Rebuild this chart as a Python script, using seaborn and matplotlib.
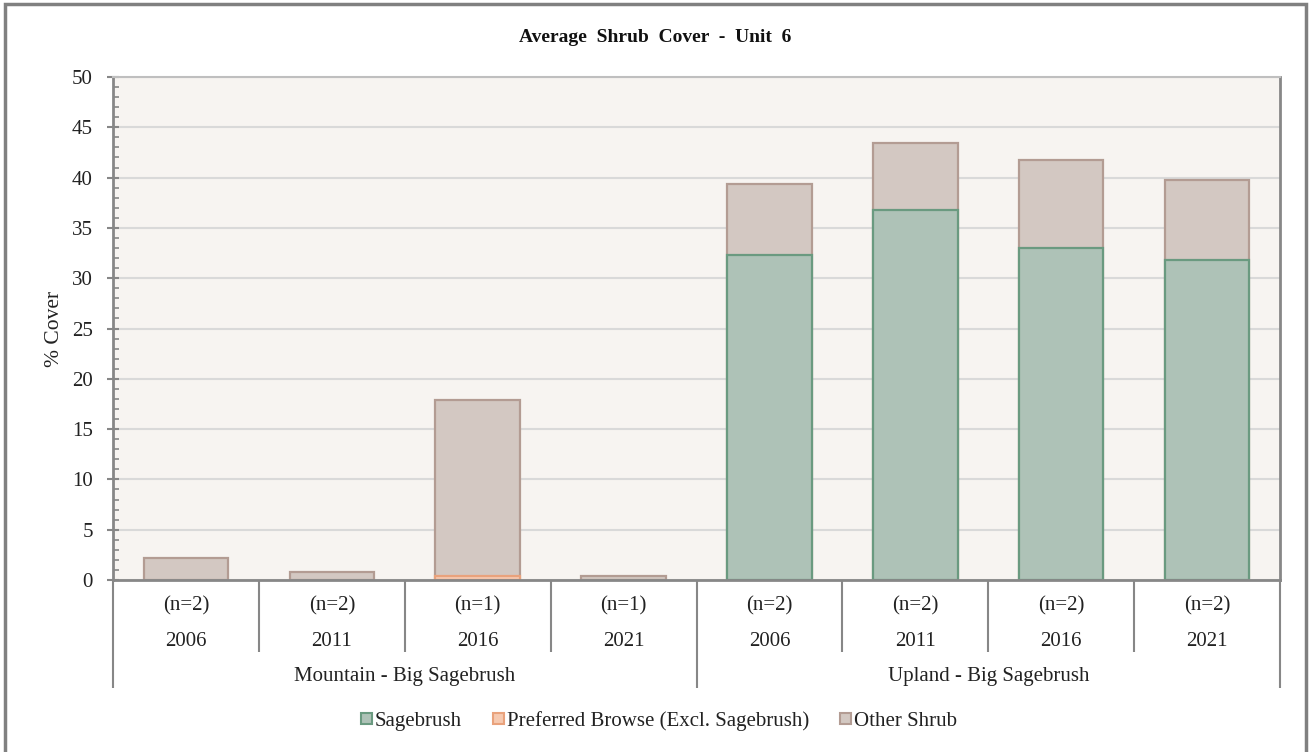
import matplotlib
matplotlib.use("Agg")
import matplotlib.pyplot as plt
from matplotlib.patches import Patch, Rectangle
from matplotlib.ticker import MultipleLocator
import numpy as np
import pandas as pd
import seaborn as sns

# ---- data ----
groups = ["Mountain - Big Sagebrush", "Upland - Big Sagebrush"]
years = ["2006", "2011", "2016", "2021", "2006", "2011", "2016", "2021"]
sample_n = ["(n=2)", "(n=2)", "(n=1)", "(n=1)", "(n=2)", "(n=2)", "(n=2)", "(n=2)"]
sagebrush = [0.0, 0.0, 0.0, 0.0, 32.3, 36.8, 33.0, 31.8]
preferred_browse = [0.0, 0.0, 0.4, 0.0, 0.0, 0.0, 0.0, 0.0]
other_shrub = [2.2, 0.8, 17.5, 0.4, 7.1, 6.6, 8.7, 8.0]

series_names = ["Sagebrush", "Preferred Browse (Excl. Sagebrush)", "Other Shrub"]
fills = ["#AEC2B7", "#F6C9B0", "#D3C8C2"]
edges = ["#6A9A80", "#E9A27C", "#B39C93"]

sns.set_theme(style="white")
plt.rcParams["font.family"] = ["Liberation Serif", "DejaVu Serif"]

TXT = 15
fig = plt.figure(figsize=(13.10, 7.52), dpi=100)
ax = fig.add_axes([113 / 1310, 1 - 580 / 752, (1280 - 113) / 1310, (580 - 77) / 752])
ax.set_facecolor("#F7F4F1")

slots = [f"s{i}" for i in range(len(years))]
layers = [sagebrush, preferred_browse, other_shrub]
tops = np.cumsum(np.array(layers), axis=0)

# draw stacked segments back to front: each layer spans from 0 to its cumulative top
for k in reversed(range(len(layers))):
    df = pd.DataFrame({"slot": slots, "top": tops[k], "val": layers[k]})
    df = df[df["val"] > 0]
    sns.barplot(data=df, x="slot", y="top", order=slots, color=fills[k],
                saturation=1, width=0.58, edgecolor=edges[k], linewidth=1.6,
                errorbar=None, ax=ax, zorder=2)

ax.set_xlim(-0.5, len(slots) - 0.5)
ax.set_ylim(0, 50)
ax.yaxis.set_major_locator(MultipleLocator(5))
ax.yaxis.set_minor_locator(MultipleLocator(1))
ax.grid(axis="y", which="major", color="#D9D9D9", linewidth=1.5, zorder=0)
ax.set_axisbelow(True)
ax.tick_params(axis="y", which="major", direction="inout", length=9, width=1.5,
               color="#878787", labelsize=TXT, labelcolor="#222222", pad=10, left=True)
ax.tick_params(axis="y", which="minor", direction="in", length=4, width=1.2,
               color="#878787", left=True)
ax.tick_params(axis="x", bottom=False, labelbottom=False)
ax.set_xlabel("")
ax.set_ylabel("% Cover", fontsize=15.5, labelpad=6, color="#222222")

for side in ["left", "bottom", "right"]:
    ax.spines[side].set_color("#878787")
    ax.spines[side].set_linewidth(2)
    ax.spines[side].set_visible(True)
ax.spines["top"].set_color("#BFBFBF")
ax.spines["top"].set_linewidth(1.5)
ax.spines["top"].set_visible(True)

# hierarchical category axis below the plot
xt = ax.get_xaxis_transform()
h_px = 580 - 77
def ay(py):
    return -(py - 580) / h_px

for b in np.arange(-0.5, len(slots), 1.0):
    is_group_edge = b in (-0.5, 3.5, len(slots) - 0.5)
    y_end = ay(688) if is_group_edge else ay(652)
    ax.plot([b, b], [0, y_end], transform=xt, color="#878787", lw=1.5,
            clip_on=False, solid_capstyle="butt")

for i in range(len(slots)):
    ax.text(i, ay(606), sample_n[i], transform=xt, ha="center", va="center",
            fontsize=TXT, color="#222222")
    ax.text(i, ay(642), years[i], transform=xt, ha="center", va="center",
            fontsize=TXT, color="#222222")
for g, name in enumerate(groups):
    ax.text(1.5 + 4 * g, ay(677), name, transform=xt, ha="center", va="center",
            fontsize=TXT, color="#222222")

fig.text(0.5, 1 - 38 / 752, "Average  Shrub  Cover  -  Unit  6", ha="center",
         va="center", fontsize=14, fontweight="bold", color="#111111")

handles = [Patch(facecolor=f, edgecolor=e, linewidth=1.5) for f, e in zip(fills, edges)]
fig.legend(handles, series_names, loc="center", bbox_to_anchor=(0.503, 1 - 721 / 752),
           ncol=3, frameon=False, fontsize=TXT, handlelength=0.5, handleheight=0.5,
           handletextpad=0.15, columnspacing=1.5, labelcolor="#222222")

# outer chart border
fig.patches.append(Rectangle((5 / 1310, -0.01), 1 - 9 / 1310, 1 - 4 / 752 + 0.01,
                             transform=fig.transFigure, fill=False,
                             edgecolor="#808080", linewidth=2.5))

fig.savefig("out.png", dpi=100, facecolor="white")
